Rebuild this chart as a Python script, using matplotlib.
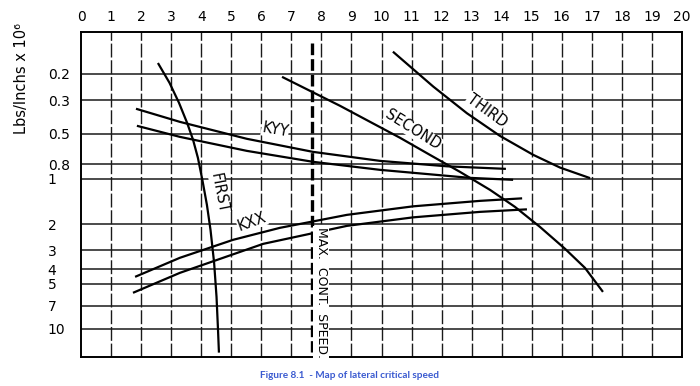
#!/usr/bin/env python3
"""
Redraw of the lateral critical speed map (Figure 8.1).

Log stiffness axis (Lbs/Inchs x 10^6, increasing downwards) against a
linear 0..20 scale on top, with the three critical speed lines, the KXX/KYY
bearing stiffness curves and the max. continuous speed marker.
"""

from __future__ import annotations

import matplotlib

matplotlib.use("Agg")
import matplotlib.pyplot as plt

# --- data ------------------------------------------------------------------
X_TICKS = list(range(0, 21))
Y_TICKS = [0.2, 0.3, 0.5, 0.8, 1, 2, 3, 4, 5, 7, 10]
Y_TICK_LABELS = ["0.2", "0.3", "0.5", "0.8", "1", "2", "3", "4", "5", "7", "10"]

first_x = [2.56, 2.945, 3.26, 3.53, 3.73, 3.89, 4.04, 4.19, 4.31, 4.43, 4.51, 4.56, 4.59]
first_y = [0.169, 0.229, 0.311, 0.423, 0.55, 0.724, 1.02, 1.49, 2.19, 3.63, 6.12, 10.2, 14.4]

second_x = [6.69, 7.62, 8.62, 9.62, 10.62, 11.61, 12.61, 13.61, 14.44, 15.27, 16.11, 16.77, 17.37]
second_y = [0.209, 0.259, 0.326, 0.417, 0.533, 0.692, 0.898, 1.184, 1.537, 2.089, 2.929, 3.92, 5.67]

third_x = [10.38, 11.72, 12.84, 13.94, 15.05, 15.94, 16.94]
third_y = [0.142, 0.2424, 0.365, 0.517, 0.692, 0.841, 0.989]

kyy_upper_x = [1.83, 3.29, 5.52, 7.72, 9.95, 12.18, 14.14]
kyy_upper_y = [0.341, 0.417, 0.541, 0.661, 0.759, 0.825, 0.858]
kyy_lower_x = [1.86, 3.29, 5.52, 7.72, 9.95, 12.94, 14.38]
kyy_lower_y = [0.443, 0.525, 0.651, 0.770, 0.871, 0.985, 1.015]

kxx_upper_x = [1.80, 3.29, 5.06, 6.62, 8.85, 11.05, 13.28, 14.68]
kxx_upper_y = [4.50, 3.36, 2.55, 2.121, 1.738, 1.525, 1.402, 1.349]
kxx_lower_x = [1.73, 3.29, 6.06, 8.85, 11.05, 13.28, 14.84]
kxx_lower_y = [5.75, 4.233, 2.713, 2.058, 1.806, 1.66, 1.597]

MAX_CONT_SPEED = 7.68
MAX_CONT_SPAN = [0.124, 14.2]

Y_LIM = (15.4, 0.105)  # inverted log axis


def _plot(out_path: str) -> None:
    fig = plt.figure(figsize=(7.0, 3.86), dpi=100)
    ax = fig.add_axes([81 / 700, 1 - 357 / 386, 601 / 700, 325 / 386])

    ax.set_yscale("log")
    ax.set_xlim(X_TICKS[0], X_TICKS[-1])
    ax.set_ylim(*Y_LIM)

    # grid: solid horizontals, broken verticals
    for yv in Y_TICKS:
        ax.axhline(yv, color="#1a1a1a", lw=1.1, zorder=1)
    for xv in X_TICKS[1:-1]:
        ax.axvline(xv, color="#1a1a1a", lw=1.0, linestyle=(0, (10, 2)), zorder=1)

    ax.plot([MAX_CONT_SPEED, MAX_CONT_SPEED], MAX_CONT_SPAN, color="black",
            lw=2.4, linestyle=(0, (3.5, 1.2)), zorder=2)

    curve_kw = dict(color="black", lw=1.6, solid_capstyle="butt",
                    solid_joinstyle="round", zorder=3)
    ax.plot(first_x, first_y, **curve_kw)
    ax.plot(second_x, second_y, **curve_kw)
    ax.plot(third_x, third_y, **curve_kw)
    ax.plot(kyy_upper_x, kyy_upper_y, **curve_kw)
    ax.plot(kyy_lower_x, kyy_lower_y, **curve_kw)
    ax.plot(kxx_upper_x, kxx_upper_y, **curve_kw)
    ax.plot(kxx_lower_x, kxx_lower_y, **curve_kw)

    label_kw = dict(fontsize=10.5, ha="center", va="center", zorder=2.5,
                    bbox=dict(facecolor="white", edgecolor="none", pad=0.3))
    ax.text(4.60, 1.24, "FIRST", rotation=-79, **label_kw)
    ax.text(6.46, 0.471, "KYY", rotation=-10, **label_kw)
    ax.text(5.69, 1.935, "KXX", rotation=20, **label_kw)
    ax.text(11.05, 0.472, "SECOND", rotation=-32, **label_kw)
    ax.text(13.50, 0.352, "THIRD", rotation=-36, **label_kw)
    ax.text(7.99, 5.75, "MAX.  CONT.  SPEED.", rotation=-90, fontsize=9,
            ha="center", va="center", zorder=4,
            bbox=dict(facecolor="white", edgecolor="none", pad=1.0))

    # ticks: numbers on top, left-aligned stiffness labels
    ax.xaxis.tick_top()
    ax.set_xticks(X_TICKS)
    ax.tick_params(axis="x", length=0, pad=6, labelsize=10)
    ax.set_yticks(Y_TICKS, Y_TICK_LABELS)
    ax.minorticks_off()
    ax.tick_params(axis="y", length=0, pad=24, labelsize=10)
    for lab in ax.get_yticklabels():
        lab.set_horizontalalignment("left")

    for spine in ax.spines.values():
        spine.set_linewidth(1.4)
        spine.set_color("black")

    fig.text(22 / 700, 1 - 78 / 386, "Lbs/Inchs x 10\u2076", rotation=90,
             fontsize=10.5, ha="center", va="center")
    fig.text(350 / 700, 1 - 375 / 386, "Figure 8.1  - Map of lateral critical speed",
             family="Lato", fontweight="bold", fontsize=7.2, color="#3a5ad0",
             ha="center", va="center")

    fig.savefig(out_path, dpi=100)


def main() -> int:
    _plot("out.png")
    return 0


if __name__ == "__main__":
    raise SystemExit(main())
